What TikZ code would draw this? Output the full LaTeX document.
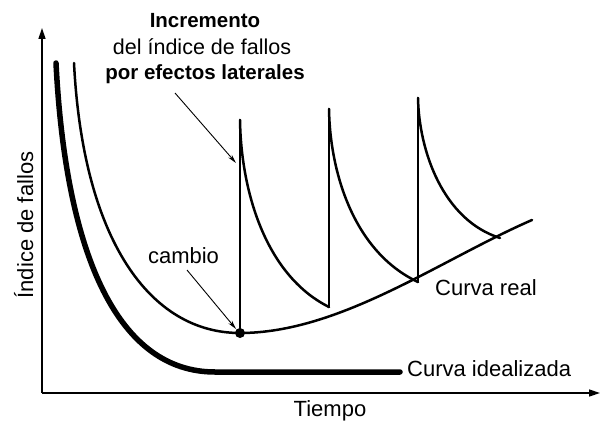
\documentclass[tikz,border=0pt]{standalone}
\usepackage{fontspec}
\setmainfont{Liberation Sans}
\usetikzlibrary{arrows.meta}
\begin{document}
\begin{tikzpicture}[x=1pt,y=-1pt,
  axis/.style={line width=1.5pt,-{Triangle[length=11pt,width=7pt]}},
  real/.style={line width=2.5pt,line join=round,line cap=round},
  ideal/.style={line width=5.5pt,line cap=round,line join=round},
  pointer/.style={line width=0.9pt,-{Stealth[length=9pt,width=4.5pt]}},
  lbl/.style={font=\fontsize{22}{24}\selectfont,inner sep=0pt,anchor=base},
  ttl/.style={font=\fontsize{20.5}{24}\selectfont\bfseries,inner sep=0pt,anchor=base}]
\useasboundingbox (0,0) rectangle (601,422);
% axes
\coordinate (O) at (42,393);
\coordinate (ytop) at (42,28);
\coordinate (xend) at (600,393);
\draw[axis] (O) -- (ytop);
\draw[axis] (O) -- (xend);
\node[lbl] (ylab) at (33,225) [rotate=90] {Índice de fallos};
\node[lbl] (xlab) at (330,416) {Tiempo};
% idealized curve
\draw[ideal] (56,63) .. controls (66,260) and (120,372) .. (215,372) -- (400,372);
% real curve
\coordinate (c1) at (240,333);
\draw[real] (74,63) .. controls (83,240) and (150,333) .. (c1)
  .. controls (340,333) and (440,260) .. (532,220);
% spikes
\coordinate (s1) at (240,120);
\coordinate (s2) at (329,109);
\coordinate (s3) at (418,98);
\coordinate (b2) at (329,307);
\coordinate (b3) at (418,282);
\coordinate (b4) at (500,238);
\draw[real] (c1) -- (s1);
\draw[real] (s1) .. controls (241,190) and (265,275) .. (b2);
\draw[real] (b2) -- (s2);
\draw[real] (s2) .. controls (330,173) and (354,252) .. (b3);
\draw[real] (b3) -- (s3);
\draw[real] (s3) .. controls (419,151) and (443,220) .. (b4);
\fill (c1) circle (5pt);
% labels
\node[ttl] (t1) at (205,28) {Incremento};
\node[lbl,font=\fontsize{21.5}{24}\selectfont] (t2) at (202,55) {del índice de fallos};
\node[ttl] (t3) at (205,80) {por efectos laterales};
\node[lbl] (cambio) at (183.5,263) {cambio};
\node[lbl,anchor=base west] (creal) at (435,295) {Curva real};
\node[lbl,anchor=base west] (cideal) at (407,376) {Curva idealizada};
% pointers
\coordinate (p1s) at (175,93);
\coordinate (p1e) at (236,163);
\coordinate (p2s) at (187,270);
\coordinate (p2e) at (236,329);
\draw[pointer] (p1s) -- (p1e);
\draw[pointer] (p2s) -- (p2e);
\end{tikzpicture}
\end{document}
